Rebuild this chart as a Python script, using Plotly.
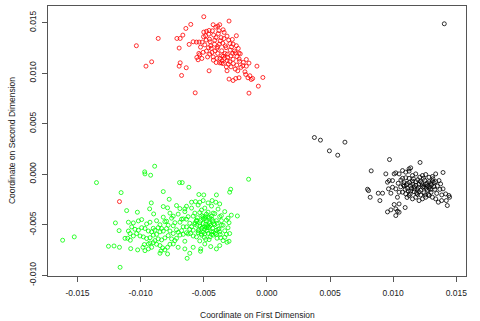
import plotly.graph_objects as go
import numpy as np

# values in units of 1e-3 (thousandths)
UNIT = 1e-3

red_pts = [(-5.00,15.58),(-3.00,15.15),(-6.03,14.82),(-3.74,14.79),(-4.26,14.79),(-6.42,14.42),(-6.66,13.76),(-8.61,13.43),(-10.34,12.71),(-7.13,13.43),(-6.87,13.43),(-6.95,12.48),(-6.16,12.84),(-5.84,13.10),(-5.58,13.07),(-5.37,13.07),(-5.13,13.07),(-5.00,14.06),(-4.79,14.13),(-4.58,14.22),(-4.32,14.19),(-4.05,14.55),(-3.89,14.65),(-3.47,14.29),(-3.39,14.03),(-3.16,13.66),(-2.42,13.70),(-2.74,13.33),(-2.68,12.87),(-2.42,12.71),(-2.21,11.98),(-2.11,11.91),(-1.63,11.35),(-1.42,10.99),(-1.63,10.69),(-0.79,10.69),(-0.32,9.57),(-0.68,8.71),(-1.42,8.02),(-1.24,9.37),(-1.50,9.54),(-1.68,9.87),(-2.21,9.54),(-2.47,9.47),(-2.68,9.27),(-3.00,9.41),(-3.16,10.23),(-4.58,10.23),(-5.68,8.05),(-6.76,9.77),(-6.39,10.53),(-6.87,11.02),(-6.95,10.69),(-9.13,11.12),(-9.58,10.69),(-11.68,-2.71),
(-5.45,11.32),(-5.32,11.81),(-5.05,12.06),(-4.79,12.18),(-4.53,11.88),(-4.26,11.60),(-3.95,11.47),(-3.74,11.02),(-3.47,10.95),(-3.21,10.62),(-2.95,11.14),(-2.68,11.38),(-2.37,11.63),(-2.16,11.16),(-2.71,11.95),(-2.91,12.28),(-3.24,12.52),(-3.50,12.95),(-3.70,13.19),(-4.03,13.52),(-4.22,13.77),(-4.55,13.36),(-4.81,13.27),(-5.02,13.60),(-5.26,12.57),(-4.92,12.79),(-4.63,12.52),(-4.41,12.45),(-4.10,12.20),(-3.89,12.61),(-3.58,12.21),(-3.31,11.94),(-3.11,11.55),(-2.80,12.60),(-2.57,12.19),(-2.27,12.44),(-3.85,13.92),(-3.63,13.52),(-4.15,12.86),(-3.90,11.95),(-3.58,11.72),(-3.36,11.46),(-4.02,11.05),(-4.24,11.28),(-4.50,13.10),(-2.93,12.93),(-3.03,13.27),(-3.76,12.87),(-3.40,13.42),(-4.35,12.04),(-4.13,13.26),(-3.80,14.20),(-4.60,13.86),(-4.86,13.70),(-5.39,11.95),(-5.55,11.55),(-1.87,11.06),(-2.05,10.57),(-2.39,10.79),(-2.51,10.40),(-2.84,10.62),(-3.06,10.89),(-3.72,11.45),(-3.55,11.22),(-3.44,11.68),(-3.14,11.88),(-2.66,10.95),(-2.31,10.23),(-1.74,10.13),(-1.35,9.74),(-1.13,9.47),(-1.91,10.73),
(-3.95,12.45),(-3.30,12.70),(-2.50,12.00),(-4.45,12.70),(-3.15,11.25),(-2.85,11.70),(-3.60,11.00),(-4.70,11.60),(-5.15,11.45),(-2.20,11.40)]

green_pts = [(-16.18,-6.53),(-15.26,-6.20),(-13.50,-0.83),(-11.55,-1.82),(-11.11,-3.60),(-12.00,-4.82),(-11.71,-5.58),(-12.55,-7.13),(-12.11,-7.10),(-11.68,-7.23),(-11.63,-9.21),(-10.26,-3.76),(-9.92,-4.49),(-9.68,0.23),(-9.66,0.03),(-8.89,0.79),(-9.21,-0.10),(-8.21,-1.72),(-7.74,-2.48),(-6.92,-0.83),(-6.71,-0.83),(-6.18,-1.29),(-8.21,-3.20),(-7.87,-3.33),(-9.16,-2.84),(-9.29,-3.43),(-8.97,-3.93),(-10.18,-4.62),(-10.58,-4.82),(-10.97,-4.75),(-11.24,-6.34),(-11.03,-6.34),(-10.82,-6.53),(-10.79,-7.36),(-10.24,-7.49),(-9.82,-7.23),(-9.71,-6.96),(-9.39,-6.90),(-9.26,-6.80),(-9.00,-6.77),(-8.74,-6.93),(-8.47,-7.06),(-8.26,-7.29),(-8.08,-7.49),(-7.87,-7.89),(-8.47,-7.82),(-8.39,-7.59),(-7.87,-7.23),(-7.68,-6.93),(-7.42,-6.90),(-7.03,-7.23),(-6.50,-6.63),(-6.24,-5.91),(-6.32,-8.32),(-6.11,-7.82),(-6.50,-7.39),(-5.84,-7.23),(-5.26,-7.62),(-5.24,-7.39),(-4.92,-6.90),(-4.45,-7.16),(-4.00,-7.39),(-3.74,-7.06),(-3.47,-6.57),(-3.16,-6.73),(-3.00,-6.63),
(-3.34,-6.24),(-3.66,-6.28),(-3.95,-6.33),(-4.26,-6.02),(-4.58,-6.47),(-4.84,-6.46),(-5.32,-6.60),(-5.58,-6.20),(-5.84,-6.11),(-6.05,-5.86),(-6.37,-5.79),(-6.63,-5.95),(-6.89,-6.02),(-7.16,-6.34),(-7.42,-5.87),(-7.68,-5.62),(-7.95,-5.37),(-8.21,-5.63),(-8.47,-5.70),(-8.74,-5.95),(-9.00,-6.03),(-9.26,-6.28),(-9.53,-6.36),(-9.79,-6.20),(-10.05,-6.11),(-10.32,-5.87),(-10.58,-6.11),(-10.84,-5.87),(-10.97,-5.62),(-10.71,-5.21),(-10.45,-5.45),(-10.18,-5.54),(-9.92,-5.29),(-9.66,-5.37),(-9.39,-5.62),(-9.13,-5.70),(-8.87,-5.54),(-8.61,-5.29),(-8.34,-5.37),
(-8.08,-4.70),(-7.82,-5.05),(-7.55,-4.35),(-7.29,-4.80),(-7.03,-3.95),(-6.76,-4.45),(-6.50,-3.70),(-6.24,-4.20),(-5.97,-3.35),(-5.71,-3.85),(-5.45,-3.05),(-5.18,-3.55),
(-4.92,-3.35),(-4.66,-3.75),(-4.39,-3.15),(-4.13,-3.90),(-3.87,-3.45),(-3.61,-4.10),(-3.34,-3.70),(-3.08,-4.35),(-2.82,-4.05),(-2.34,-4.13),
(-3.00,-4.80),(-3.21,-4.55),(-3.47,-5.05),(-3.74,-4.20),(-4.00,-4.60),(-4.26,-3.85),(-4.53,-4.30),(-4.79,-3.95),(-5.05,-4.20),(-5.32,-3.80),(-5.58,-4.65),(-5.84,-4.15),(-6.11,-4.85),(-6.37,-4.45),(-6.63,-5.20),(-6.89,-4.75),(-7.16,-5.50),(-7.42,-5.10),
(-5.97,-5.20),(-5.71,-4.95),(-5.45,-5.60),(-5.18,-5.35),(-4.92,-5.90),(-4.66,-5.30),(-4.39,-5.70),(-4.13,-5.00),(-3.87,-5.45),(-3.61,-5.05),(-3.34,-5.60),(-3.08,-5.30),
(-2.95,-5.87),(-3.21,-5.95),(-3.74,-5.70),(-4.00,-5.95),(-4.26,-5.70),(-4.79,-5.29),(-5.05,-4.88),(-5.32,-4.79),(-5.58,-4.55),(-4.79,-4.63),(-4.53,-4.88),(-4.26,-4.63),(-5.05,-4.38),(-5.32,-5.12),(-4.66,-4.22),(-4.92,-5.21),(-5.45,-5.78),(-5.18,-6.03),(-5.84,-5.54),(-6.11,-5.45),(-6.37,-5.21),(-4.00,-5.54),(-4.39,-5.95),(-5.00,-2.05),(-5.39,-2.01),(-4.00,-2.05),(-2.87,-1.49),(-2.95,-1.78),(-1.45,-0.50),(-5.97,-2.77),(-5.66,-2.71),(-5.32,-2.77),(-5.05,-2.61),(-4.66,-2.84),(-4.34,-2.61),(-4.05,-2.77),(-3.74,-2.94),
(-6.89,-3.40),(-7.16,-3.10),(-7.42,-4.15),(-7.68,-3.85),(-7.95,-4.65),(-8.21,-4.25),(-8.47,-5.00),(-8.74,-4.60),(-9.00,-5.35),(-9.26,-4.75),(-9.53,-4.92),(-6.37,-3.17),(-6.50,-3.43),(-6.63,-4.42),(-6.76,-5.58),(-7.03,-5.74),(-7.29,-6.57),(-7.55,-6.40),(-7.82,-6.07),(-8.08,-6.30),(-8.34,-6.50),(-8.61,-6.40),(-8.87,-6.57),(-9.13,-7.23),(-9.39,-7.39),(-9.66,-7.56),
(-4.85,-4.95),(-4.70,-5.10),(-4.55,-5.25),(-4.95,-5.45),(-5.10,-5.25),(-4.45,-5.05),(-4.60,-4.75),(-5.25,-4.60),(-4.35,-4.45),(-4.90,-4.40),(-5.15,-4.10),(-4.20,-4.90),(-4.75,-5.60),(-5.40,-5.50),(-3.95,-4.85),(-4.10,-5.85),(-5.55,-5.05),(-4.65,-5.85),(-5.20,-5.90),(-3.80,-5.40),(-4.50,-6.20),(-5.70,-4.80),(-3.60,-4.60),(-4.85,-4.20),(-4.30,-5.35),(-5.05,-5.75),(-4.40,-4.15),(-5.50,-4.30),(-3.70,-5.95),(-4.95,-6.25)]

black_pts = [(14.05,14.88),(3.76,3.63),(4.24,3.37),(4.95,2.31),(5.61,1.88),(6.18,3.17),(9.71,1.45),(12.13,1.16),(8.26,0.33),(7.97,-1.49),(8.05,-1.62),(8.18,-2.28),(8.82,-1.88),(8.95,-2.61),(9.16,-1.88),(9.42,0.03),(9.63,-1.45),(9.82,-1.88),(9.55,-0.79),(9.68,-0.63),(9.95,-0.63),(10.08,0.03),(10.21,0.13),(10.47,0.03),(10.74,0.36),(11.00,0.20),(11.26,0.53),(11.39,0.63),(11.26,0.30),(11.53,-0.13),(11.79,0.03),(12.11,-0.30),(12.32,-0.13),(12.58,-0.03),(12.84,-0.30),(13.11,-0.23),(13.37,0.03),(13.95,0.17),(13.63,-0.63),(13.76,-0.96),(13.95,-1.45),(14.16,-1.95),(14.42,-2.11),(14.47,-2.28),(14.21,-2.61),(14.29,-3.10),(13.84,-2.61),(13.58,-2.77),(13.37,-2.44),(13.11,-2.28),(12.84,-2.11),(12.58,-2.28),(12.32,-2.44),(12.05,-2.61),(11.79,-2.28),(11.53,-2.44),(11.26,-2.11),(11.00,-1.95),(10.74,-1.78),(10.47,-1.78),(10.34,-2.28),(10.21,-1.45),(9.95,-1.29),(10.47,-2.94),(10.08,-3.00),(10.21,-3.43),(9.82,-3.53),(9.55,-3.73),(10.21,-4.09),(10.47,-3.76),(10.95,-3.30),(10.34,-3.66),
(10.61,-0.58),(10.87,-0.84),(11.13,-0.91),(11.39,-1.17),(11.66,-1.24),(11.92,-1.50),(12.18,-1.57),(12.45,-1.83),(12.71,-1.57),(12.97,-1.50),(13.24,-1.24),(13.50,-1.17),(13.37,-0.74),(13.11,-0.68),(12.84,-0.74),(12.58,-1.01),(12.32,-1.07),(12.05,-1.01),(11.79,-0.74),(11.53,-0.68),(11.26,-0.41),(11.00,-0.35),(10.74,-0.41),(10.87,-1.17),(11.13,-1.40),(11.39,-1.67),(11.66,-1.73),(11.92,-2.00),(12.18,-2.06),(12.45,-1.24),(12.71,-1.17),(12.97,-0.91),(13.24,-0.84),
(11.05,-1.05),(11.30,-0.80),(11.55,-1.00),(11.80,-1.10),(12.00,-1.30),(12.25,-0.85),(12.50,-0.60),(12.70,-0.90),(12.90,-1.25),(13.05,-1.05),(13.30,-1.50),(13.00,-1.80),(12.60,-1.40),(12.35,-1.30),(12.15,-0.70),(11.95,-0.55),(11.70,-1.45),(11.45,-1.40),(11.20,-1.65),(10.95,-1.50),(10.80,-1.05),(11.60,-0.45),(12.40,-0.40),(12.80,-2.00),(13.45,-1.90),(13.70,-1.50),(13.85,-2.05),(11.85,-1.85),(12.55,-2.05),(11.35,-1.95),(12.05,-1.75),(12.85,-1.40),(13.15,-0.45),(11.10,-2.30),(10.60,-1.25),(10.40,-0.90)]

x_tickvals = [-0.015, -0.010, -0.005, 0.000, 0.005, 0.010, 0.015]
x_ticktext = ["-0.015", "-0.010", "-0.005", "0.000", "0.005", "0.010", "0.015"]
y_tickvals = [-0.010, -0.005, 0.000, 0.005, 0.010, 0.015]
y_ticktext = ["-0.010", "-0.005", "0.000", "0.005", "0.010", "0.015"]

FONT = "Liberation Sans, Arial, sans-serif"

fig = go.Figure()
for pts, col in [(black_pts, "#000000"), (green_pts, "#00ff00"), (red_pts, "#ff0000")]:
    a = np.array(pts) * UNIT
    fig.add_trace(go.Scatter(
        x=a[:, 0], y=a[:, 1], mode="markers",
        marker=dict(symbol="circle-open", size=4, color=col, line=dict(width=0.8, color=col)),
        showlegend=False, hoverinfo="skip"))

axis_common = dict(showline=True, mirror=True, linecolor="#555555", linewidth=1,
                   ticks="outside", ticklen=5, tickcolor="#555555", tickwidth=1,
                   showgrid=False, zeroline=False,
                   tickfont=dict(family=FONT, size=8.5, color="#222222"))

fig.update_layout(
    width=480, height=321,
    margin=dict(l=48, r=14, t=6, b=45),
    paper_bgcolor="white", plot_bgcolor="white",
    xaxis=dict(range=[-0.01734, 0.01577], tickvals=x_tickvals, ticktext=x_ticktext,
               ticklabelstandoff=4, **axis_common),
    yaxis=dict(range=[-0.01007, 0.01664], tickvals=y_tickvals, ticktext=y_ticktext,
               tickangle=-90, ticklabelstandoff=3, **axis_common),
    annotations=[
        dict(text="Coordinate on First Dimension", xref="paper", yref="paper",
             x=0.5, y=-0.143, xanchor="center", yanchor="middle", showarrow=False,
             font=dict(family=FONT, size=8.5, color="#222222")),
        dict(text="Coordinate on Second Dimension", xref="paper", yref="paper",
             x=-0.086, y=0.5, xanchor="center", yanchor="middle", showarrow=False,
             textangle=-90, font=dict(family=FONT, size=8.5, color="#222222")),
    ],
)

fig.write_html("out.html")
